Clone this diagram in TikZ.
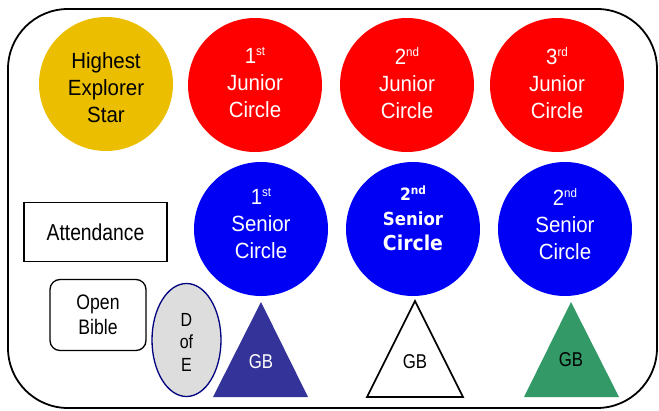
\documentclass[tikz,border=0pt]{standalone}
\usepackage{fontspec}
\usetikzlibrary{shapes.geometric}
\setmainfont{Liberation Sans}
\newfontfamily\cfnt{Liberation Sans}[FakeStretch=0.93]
\newfontfamily\nfnt{Liberation Sans}[FakeStretch=0.84]
\newfontfamily\dvfnt{DejaVu Sans}[FakeStretch=0.92]
\newcommand\supt[1]{\raisebox{8pt}{\fontsize{12.5}{12.5}\selectfont #1}}
\definecolor{goldc}{HTML}{EBBE00}
\definecolor{redc}{HTML}{FF0000}
\definecolor{bluec}{HTML}{0000F4}
\definecolor{navyc}{HTML}{333399}
\definecolor{greenc}{HTML}{339966}
\definecolor{greyc}{HTML}{DDDDDD}
\definecolor{edgec}{HTML}{000080}
\begin{document}
\begin{tikzpicture}[x=1pt,y=-1pt,
  disc/.style={circle,inner sep=0pt,minimum size=134pt,draw=none},
  txt/.style={inner sep=0pt,align=center,font=\cfnt\fontsize{22}{27}\selectfont},
  wtxt/.style={txt,text=white},
  gbtxt/.style={inner sep=0pt,font=\nfnt\fontsize{20}{24}\selectfont}
  ]
\useasboundingbox (0,0) rectangle (659,410);
% outer frame
\draw[line width=1.8pt,rounded corners=60pt] (8,9) rectangle (657,408);
% top row
\node[disc,fill=goldc] (hes) at (106,84) {};
\node[txt] (hest) at (106,88) {Highest\\Explorer\\Star};
\node[disc,fill=redc] (j1) at (255,85) {};
\node[wtxt] (j1t) at (255,83) {1\supt{st}\\Junior\\Circle};
\node[disc,fill=redc] (j2) at (407,85) {};
\node[wtxt] (j2t) at (407,83) {2\supt{nd}\\Junior\\Circle};
\node[disc,fill=redc] (j3) at (557,85) {};
\node[wtxt] (j3t) at (557,83) {3\supt{rd}\\Junior\\Circle};
% senior row
\node[disc,fill=bluec] (s1) at (261,229) {};
\node[wtxt] (s1t) at (261,224) {1\supt{st}\\Senior\\Circle};
\node[disc,fill=bluec] (s2) at (413,229) {};
\node[inner sep=0pt,align=center,text=white,font=\dvfnt\bfseries\fontsize{18}{25}\selectfont] (s2t) at (413,218)
  {{\fontsize{17}{25}\selectfont 2\raisebox{6pt}{\fontsize{11.5}{11.5}\selectfont nd}}\\
   Senior\\
   {\fontsize{20.5}{25}\selectfont Circle}};
\node[disc,fill=bluec] (s3) at (565,229) {};
\node[wtxt] (s3t) at (565,224) {2\supt{nd}\\Senior\\Circle};
% left boxes
\node[draw,line width=1.6pt,minimum width=143pt,minimum height=59pt,inner sep=0pt,
  font=\nfnt\fontsize{23}{25}\selectfont] (att) at (95.5,232) {Attendance};
\node[draw,line width=1.3pt,rounded corners=10pt,minimum width=96pt,minimum height=71pt,
  inner sep=0pt,align=center,font=\nfnt\fontsize{21}{25}\selectfont] (ob) at (98,315) {Open\\Bible};
\node[ellipse,draw=edgec,fill=greyc,line width=1.3pt,minimum width=69pt,minimum height=113pt,
  inner sep=0pt] (doe) at (186.5,340) {};
\node[inner sep=0pt,align=center,font=\nfnt\fontsize{19}{22.5}\selectfont] (doet) at (186.5,342) {D\\of\\E};
% triangles
\coordinate (g1a) at (261,302); \coordinate (g1l) at (213,397); \coordinate (g1r) at (308,397);
\fill[navyc] (g1a) -- (g1l) -- (g1r) -- cycle;
\node[gbtxt,text=white] (g1t) at (261,362) {GB};
\coordinate (g2a) at (415,301); \coordinate (g2l) at (367,397); \coordinate (g2r) at (463,397);
\draw[line width=1.6pt,line join=miter,fill=white] (g2a) -- (g2l) -- (g2r) -- cycle;
\node[gbtxt] (g2t) at (415,362) {GB};
\coordinate (g3a) at (571,302); \coordinate (g3l) at (524,397); \coordinate (g3r) at (619,397);
\fill[greenc] (g3a) -- (g3l) -- (g3r) -- cycle;
\node[gbtxt] (g3t) at (571,360) {GB};
\end{tikzpicture}
\end{document}
